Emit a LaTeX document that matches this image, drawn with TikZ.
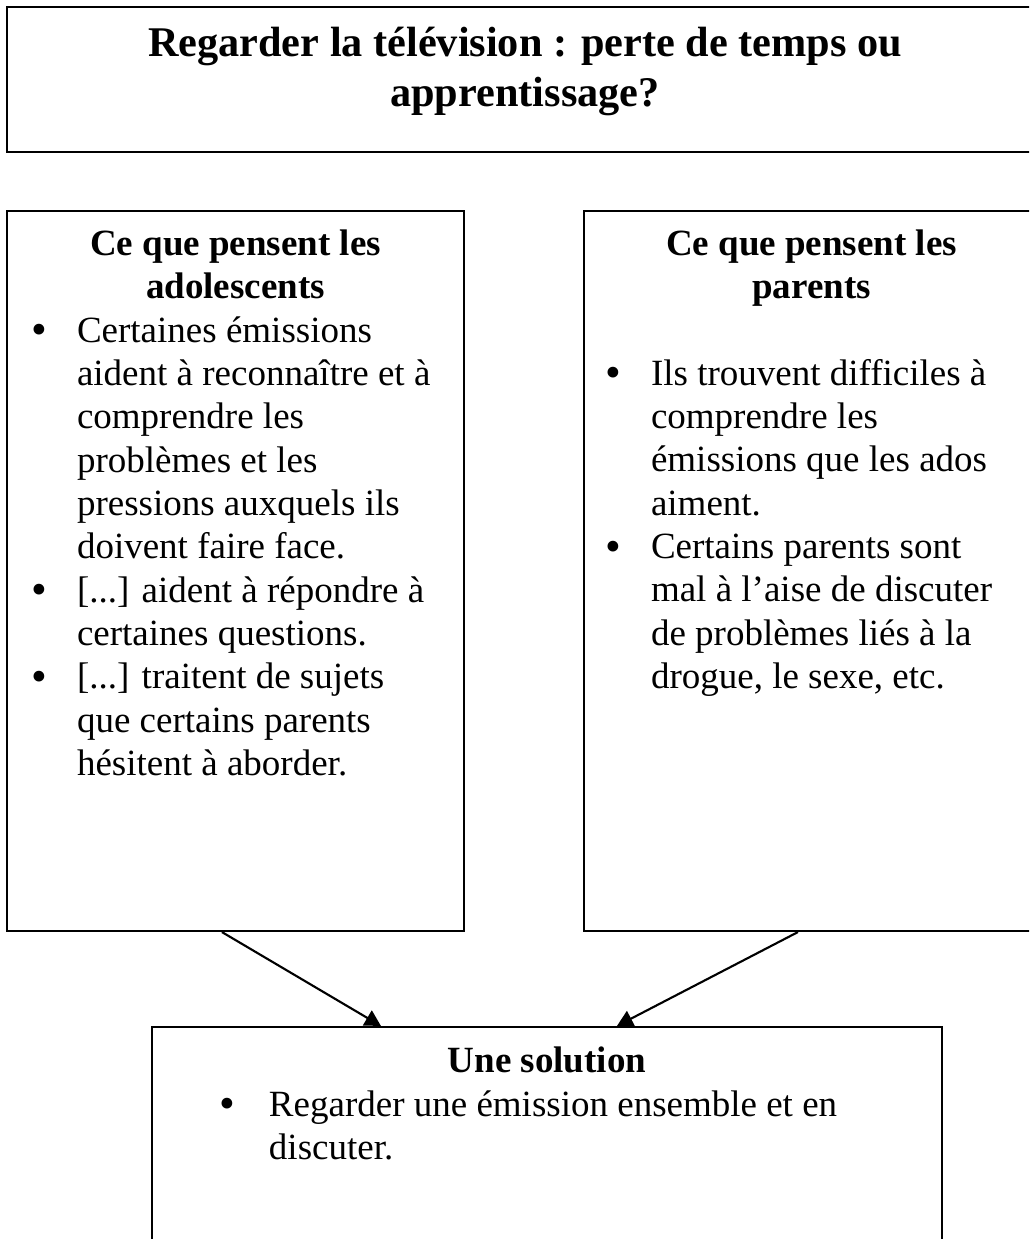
\documentclass[tikz,border=0pt]{standalone}
\usepackage{fontspec}
\setmainfont{Liberation Serif}
\usetikzlibrary{fit,calc,arrows.meta}

\newcommand{\puce}{\raisebox{-1pt}{\fontsize{17}{16}\selectfont\textbullet}}

\tikzset{
	panel/.style={draw, line width=0.8pt, inner sep=0pt},
	panelhead/.style={font=\fontsize{14}{16.4}\selectfont\bfseries, anchor=base, inner sep=0pt},
	items/.style={font=\fontsize{14}{16.4}\selectfont, anchor=base west, inner sep=0pt},
	arr/.style={line width=0.8pt, -{Triangle[length=6pt,width=6.5pt]}}
}

\begin{document}
\begin{tikzpicture}[x=0.37838pt, y=-0.37838pt]
	\clip (0,0) rectangle (1029,1239);
	% title
	\node [panel, fit={(7,7) (1043,152)}] (titre) {};
	\node [panelhead, font=\fontsize{16}{18.8}\selectfont\bfseries] (titreT) at (525,57) {\begin{tabular}[t]{@{}c@{}}Regarder la télévision : perte de temps ou\\ apprentissage?\end{tabular}};
	% what the teens think
	\node [panel, fit={(7,211) (464,931)}] (ados) {};
	\node [panelhead] (adosT) at (235.5,255) {\begin{tabular}[t]{@{}c@{}}Ce que pensent les\\ adolescents\end{tabular}};
	\node [items] (adosL) at (30.5,342) {\begin{tabular}[t]{@{}p{17.4pt}@{}l@{}}
		\puce & Certaines émissions\\
		& aident à reconnaître et à\\
		& comprendre les\\
		& problèmes et les\\
		& pressions auxquels ils\\
		& doivent faire face.\\
		\puce & [...] aident à répondre à\\
		& certaines questions.\\
		\puce & [...] traitent de sujets\\
		& que certains parents\\
		& hésitent à aborder.
	\end{tabular}};
	% what the parents think
	\node [panel, fit={(584,211) (1040,931)}] (parents) {};
	\node [panelhead] (parentsT) at (811.5,255) {\begin{tabular}[t]{@{}c@{}}Ce que pensent les\\ parents\end{tabular}};
	\node [items] (parentsL) at (604.5,385) {\begin{tabular}[t]{@{}p{17.4pt}@{}l@{}}
		\puce & Ils trouvent difficiles à\\
		& comprendre les\\
		& émissions que les ados\\
		& aiment.\\
		\puce & Certains parents sont\\
		& mal à l’aise de discuter\\
		& de problèmes liés à la\\
		& drogue, le sexe, etc.
	\end{tabular}};
	% solution
	\node [panel, fit={(152,1027) (942,1260)}] (sol) {};
	\node [panelhead] (solT) at (547,1072) {Une solution};
	\node [items] (solL) at (218.5,1116) {\begin{tabular}[t]{@{}p{18.9pt}@{}l@{}}
		\puce & Regarder une émission ensemble et en\\
		& discuter.
	\end{tabular}};
	\draw [arr] ($(ados.south west)+(216,0)$) -- ($(sol.north west)+(230,0)$);
	\draw [arr] ($(parents.south west)+(215,0)$) -- ($(sol.north west)+(466,0)$);
\end{tikzpicture}
\end{document}
